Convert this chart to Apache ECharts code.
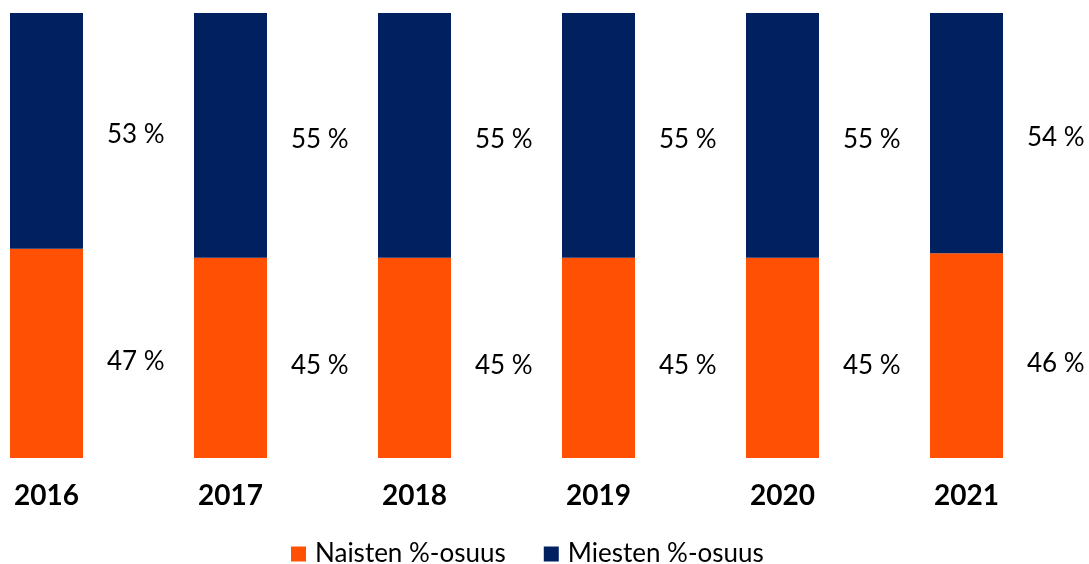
<!DOCTYPE html>
<html>
<head>
<meta charset="utf-8">
<script src="https://cdn.jsdelivr.net/npm/echarts@6/dist/echarts.min.js"></script>
<style>
  html, body { margin: 0; padding: 0; background: #fff; }
  #chart { width: 1089px; height: 564px; }
</style>
</head>
<body>
<div id="chart"></div>
<script>
// vuodet ja osuudet (%)
var years = ['2016', '2017', '2018', '2019', '2020', '2021'];
var naiset = [47, 45, 45, 45, 45, 46];
var miehet = [53, 55, 55, 55, 55, 54];

var chart = echarts.init(document.getElementById('chart'));

var labelStyle = {
    show: true,
    position: 'right',
    distance: 24,
    color: '#000',
    fontFamily: 'Lato',
    fontSize: 26,
    formatter: '{c} %'
};

var option = {
    backgroundColor: '#fff',
    animation: false,
    grid: {
        left: 46.5,
        right: 122.5,
        top: 13,
        bottom: 106
    },
    legend: {
        top: 536,
        left: 286,
        itemWidth: 15,
        itemHeight: 15,
        itemGap: 38,
        icon: 'rect',
        textStyle: {
            color: '#000',
            fontFamily: 'Lato',
            fontSize: 26,
            padding: [0, 0, 4, 4]
        },
        data: ['Naisten %-osuus', 'Miesten %-osuus']
    },
    xAxis: {
        type: 'category',
        data: years,
        boundaryGap: false,
        axisLine: { show: false },
        axisTick: { show: false },
        axisLabel: {
            color: '#000',
            fontFamily: 'Lato',
            fontWeight: 'bold',
            fontSize: 28,
            margin: 24
        }
    },
    yAxis: {
        type: 'value',
        min: 0,
        max: 100,
        show: false,
        splitLine: { show: false }
    },
    series: [{
        name: 'Naisten %-osuus',
        type: 'bar',
        stack: 'osuus',
        barWidth: 73,
        itemStyle: { color: '#FF5003' },
        label: Object.assign({}, labelStyle, { offset: [0, 8] }),
        data: naiset
    }, {
        name: 'Miesten %-osuus',
        type: 'bar',
        stack: 'osuus',
        barWidth: 73,
        itemStyle: { color: '#002060' },
        label: Object.assign({}, labelStyle, { offset: [0, 4] }),
        data: miehet
    }]
};

chart.setOption(option);
</script>
</body>
</html>
